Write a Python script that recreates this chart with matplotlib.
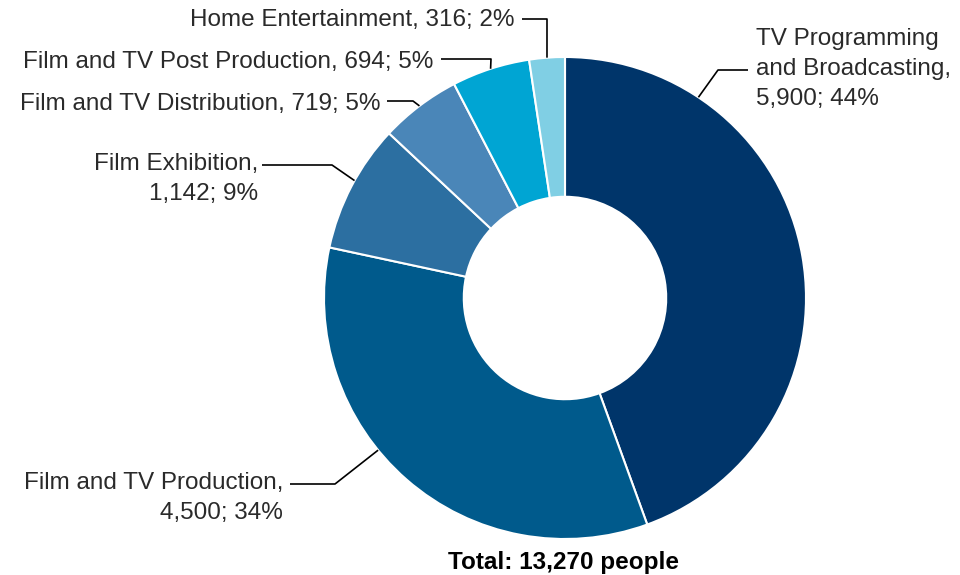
import numpy as np
import matplotlib.pyplot as plt

plt.rcParams['font.family'] = ['Liberation Sans', 'DejaVu Sans']

# employees by sector, clockwise from the top
sectors = ['TV Programming\nand Broadcasting', 'Film and TV Production', 'Film Exhibition',
           'Film and TV Distribution', 'Film and TV Post Production', 'Home Entertainment']
people = [5900, 4500, 1142, 719, 694, 316]
shares = [44, 34, 9, 5, 5, 2]
total = 13270
colors = ['#00356a', '#005a8c', '#2c6fa1', '#4a86b8', '#00a5d3', '#80cfe4']

W, H = 960, 575
cx, cy, R = 565, 298, 241

fig = plt.figure(figsize=(W / 100, H / 100), dpi=100)
ax = fig.add_axes([0, 0, 1, 1])

wedges, _ = ax.pie(people, colors=colors, startangle=90, counterclock=False,
                   center=(cx, H - cy), radius=R, frame=True,
                   wedgeprops=dict(width=R * 0.58, edgecolor='white', linewidth=1.5))
ax.set_xlim(0, W)
ax.set_ylim(0, H)
ax.axis('off')

# label layout: (text x, text y, ha, where along wedge the leader touches, leader path)
layout = [
    (756, 69, 'left', 0.21, [(748, 70), (718, 70)]),
    (283, 498, 'right', 0.58, [(290, 484), (335, 484)]),
    (258, 179, 'right', 0.55, [(262, 165), (332, 165)]),
    (380, 104, 'right', 0.5, [(387, 101), (413, 101)]),
    (433, 62, 'right', 0.5, [(441, 59), (491, 59)]),
    (515, 20, 'right', 0.5, [(522, 19), (547, 19)]),
]

for w, name, n, pct, (tx, ty, ha, frac, path) in zip(wedges, sectors, people, shares, layout):
    # clockwise wedges: theta2 is where the wedge starts
    ang = np.deg2rad(w.theta2 - (w.theta2 - w.theta1) * frac)
    ax_, ay_ = cx + R * np.cos(ang), (H - cy) + R * np.sin(ang)
    if '\n' in name or name in ('Film and TV Production', 'Film Exhibition'):
        label = f'{name},\n{n:,}; {pct}%'
    else:
        label = f'{name}, {n:,}; {pct}%'
    ax.text(tx, H - ty, label, ha=ha, va='center', fontsize=17.5, color='#2a2a2a',
            linespacing=1.45)
    xs = [p[0] for p in path] + [ax_]
    ys = [H - p[1] for p in path] + [ay_]
    ax.plot(xs, ys, color='black', lw=1.2, solid_capstyle='butt')

ax.text(563, H - 562, f'Total: {total:,} people', ha='center', va='center',
        fontsize=17.5, fontweight='bold', color='black')

fig.savefig('out.png', dpi=100)
